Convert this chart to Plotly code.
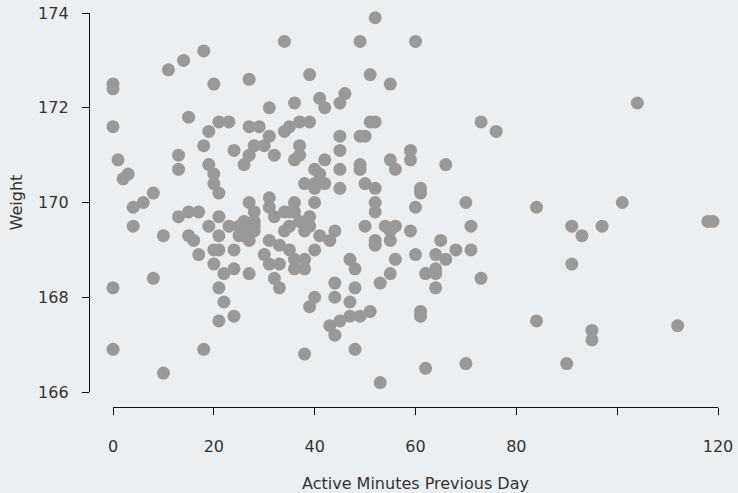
import plotly.graph_objects as go

# Active minutes on the previous day vs. body weight, one dot per day
active_minutes = [
    0, 0, 0, 11, 14, 18, 20, 27, 15, 19, 21, 23, 27, 52, 34, 49, 39, 51, 55, 31,
    36, 41, 42, 46, 45, 29, 31, 34, 35, 37, 39, 45, 49, 50, 51, 52, 60, 73, 76, 104,
    1, 3, 2, 13, 13, 18, 24, 27, 26, 19, 20, 20, 21, 8, 6, 4, 4, 10, 13, 15,
    17, 15, 16, 17, 19, 21, 21, 20, 21, 24, 20, 23, 25, 27, 22, 24, 8, 27, 28, 30,
    37, 37, 36, 32, 45, 59, 59, 42, 40, 41, 45, 49, 49, 55, 56, 38, 40, 42, 40, 45,
    50, 52, 31, 31, 28, 36, 40, 52, 52, 32, 34, 35, 36, 39, 37, 35, 39, 34, 38, 41,
    44, 43, 28, 28, 31, 33, 30, 31, 33, 35, 36, 38, 40, 36, 38, 47, 48, 50, 52, 52,
    54, 55, 56, 55, 59, 56, 55, 66, 61, 61, 60, 70, 84, 71, 65, 60, 64, 66, 68, 71,
    62, 64, 64, 73, 101, 91, 93, 97, 118, 119, 91, 0, 0, 10, 18, 21, 22, 21, 24, 32,
    33, 40, 39, 44, 44, 48, 47, 53, 51, 49, 47, 45, 43, 44, 38, 48, 53, 64, 61, 61,
    84, 62, 70, 90, 95, 95, 112, 25, 26, 27, 27, 28, 26,
]
weight = [
    172.5, 172.4, 171.6, 172.8, 173.0, 173.2, 172.5, 172.6, 171.8, 171.5,
    171.7, 171.7, 171.6, 173.9, 173.4, 173.4, 172.7, 172.7, 172.5, 172.0,
    172.1, 172.2, 172.0, 172.3, 172.1, 171.6, 171.4, 171.5, 171.6, 171.7,
    171.7, 171.4, 171.4, 171.4, 171.7, 171.7, 173.4, 171.7, 171.5, 172.1,
    170.9, 170.6, 170.5, 171.0, 170.7, 171.2, 171.1, 171.0, 170.8, 170.8,
    170.6, 170.4, 170.2, 170.2, 170.0, 169.9, 169.5, 169.3, 169.7, 169.8,
    169.8, 169.3, 169.2, 168.9, 169.5, 169.7, 169.3, 169.0, 169.0, 169.0,
    168.7, 169.5, 169.5, 170.0, 168.5, 168.6, 168.4, 168.5, 171.2, 171.2,
    171.2, 171.0, 170.9, 171.0, 171.1, 171.1, 170.9, 170.9, 170.7, 170.6,
    170.7, 170.8, 170.7, 170.9, 170.7, 170.4, 170.4, 170.4, 170.3, 170.3,
    170.4, 170.3, 170.1, 169.9, 169.8, 170.0, 170.0, 170.0, 169.8, 169.7,
    169.8, 169.8, 169.8, 169.7, 169.6, 169.5, 169.5, 169.4, 169.4, 169.3,
    169.4, 169.2, 169.6, 169.4, 169.2, 169.1, 168.9, 168.7, 168.7, 169.0,
    168.8, 168.8, 169.0, 168.6, 168.6, 168.8, 168.6, 169.5, 169.2, 169.1,
    169.5, 169.4, 169.5, 169.2, 169.4, 168.8, 168.5, 170.8, 170.3, 170.2,
    169.9, 170.0, 169.9, 169.5, 169.2, 168.9, 168.9, 168.8, 169.0, 169.0,
    168.5, 168.6, 168.5, 168.4, 170.0, 169.5, 169.3, 169.5, 169.6, 169.6,
    168.7, 168.2, 166.9, 166.4, 166.9, 168.2, 167.9, 167.5, 167.6, 168.4,
    168.2, 168.0, 167.8, 168.3, 168.0, 168.2, 167.9, 168.3, 167.7, 167.6,
    167.6, 167.5, 167.4, 167.2, 166.8, 166.9, 166.2, 168.2, 167.7, 167.6,
    167.5, 166.5, 166.6, 166.6, 167.3, 167.1, 167.4, 169.3, 169.6, 169.4,
    169.2, 169.5, 169.3,
]

x_ticks = [0, 20, 40, 60, 80, 100, 120]
x_tick_text = ["0", "20", "40", "60", "80", "", "120"]
y_ticks = [166, 168, 170, 172, 174]

BG = "#ebeff1"
INK = "#333333"
FONT = "DejaVu Sans, sans-serif"

fig = go.Figure(
    go.Scatter(
        x=active_minutes,
        y=weight,
        mode="markers",
        cliponaxis=False,
        marker=dict(size=13, color="#999999", line=dict(width=0)),
        hoverinfo="x+y",
    )
)

axis_common = dict(
    showgrid=False,
    zeroline=False,
    showline=True,
    automargin=False,
    linecolor="#111111",
    linewidth=1.3,
    ticks="outside",
    ticklen=7,
    tickwidth=1.3,
    tickcolor="#111111",
    tickfont=dict(family=FONT, size=16, color=INK),
    title_font=dict(family=FONT, size=16, color=INK),
)

fig.update_layout(
    width=738,
    height=493,
    margin=dict(l=89, r=20, t=13, b=86),
    paper_bgcolor=BG,
    plot_bgcolor=BG,
    showlegend=False,
    font=dict(family=FONT, color=INK),
    xaxis=dict(
        axis_common,
        range=[0, 120],
        domain=[24 / 629, 1],
        anchor="free",
        position=0,
        tickvals=x_ticks,
        ticktext=x_tick_text,
        ticklabelstandoff=18,
        title=dict(text="Active Minutes Previous Day", standoff=24),
    ),
    yaxis=dict(
        axis_common,
        range=[166, 174],
        domain=[15 / 394, 1],
        anchor="free",
        position=0,
        tickvals=y_ticks,
        ticklabelstandoff=10,
        title=dict(text="Weight", standoff=10),
    ),
)

fig.write_html("out.html")
